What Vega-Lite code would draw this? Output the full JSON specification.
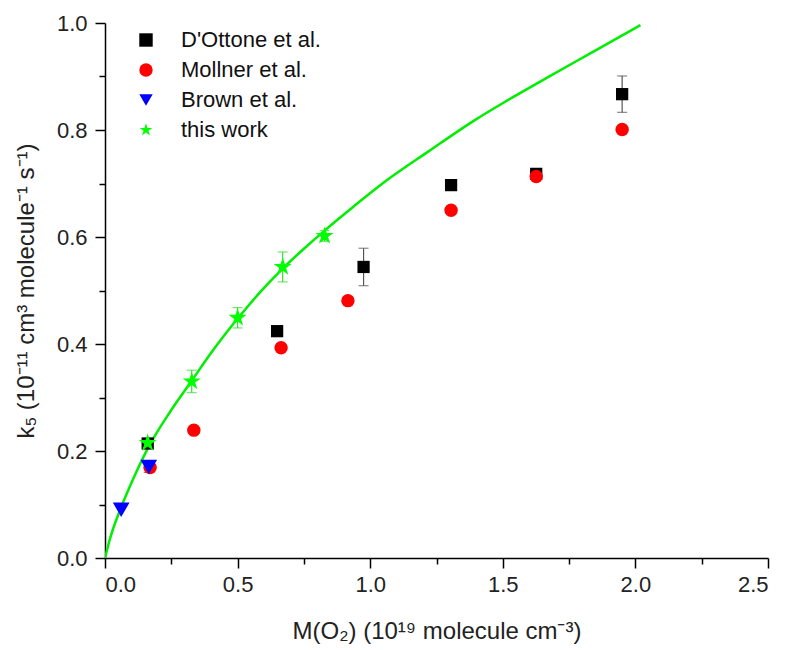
{
  "$schema": "https://vega.github.io/schema/vega-lite/v6.json",
  "width": 663,
  "height": 535,
  "autosize": "none",
  "padding": {"left": 105, "top": 23, "right": 21, "bottom": 92},
  "background": "white",
  "config": {
    "view": {"stroke": null},
    "font": "Liberation Sans",
    "axis": {"grid": false, "domainColor": "#000", "domainWidth": 1.5, "tickColor": "#000", "tickWidth": 1.5, "labelFont": "Liberation Sans", "labelFontSize": 22, "labelColor": "#222", "titleFont": "Liberation Sans", "titleFontSize": 24, "titleFontWeight": "normal", "titleColor": "#222"}
  },
  "datasets": {
    "pts": [
      {"series": "D'Ottone et al.", "x": 0.161, "y": 0.214},
      {"series": "D'Ottone et al.", "x": 0.649, "y": 0.424},
      {"series": "D'Ottone et al.", "x": 0.975, "y": 0.544, "lo": 0.509, "hi": 0.579},
      {"series": "D'Ottone et al.", "x": 1.305, "y": 0.697},
      {"series": "D'Ottone et al.", "x": 1.626, "y": 0.718},
      {"series": "D'Ottone et al.", "x": 1.950, "y": 0.867, "lo": 0.833, "hi": 0.901},
      {"series": "Mollner et al.", "x": 0.170, "y": 0.169},
      {"series": "Mollner et al.", "x": 0.335, "y": 0.239},
      {"series": "Mollner et al.", "x": 0.664, "y": 0.393},
      {"series": "Mollner et al.", "x": 0.916, "y": 0.481},
      {"series": "Mollner et al.", "x": 1.305, "y": 0.650},
      {"series": "Mollner et al.", "x": 1.626, "y": 0.713},
      {"series": "Mollner et al.", "x": 1.950, "y": 0.801},
      {"series": "Brown et al.", "x": 0.061, "y": 0.090},
      {"series": "Brown et al.", "x": 0.165, "y": 0.170, "lo": 0.160, "hi": 0.180},
      {"series": "this work", "x": 0.161, "y": 0.215},
      {"series": "this work", "x": 0.327, "y": 0.330, "lo": 0.309, "hi": 0.351},
      {"series": "this work", "x": 0.500, "y": 0.449, "lo": 0.430, "hi": 0.468},
      {"series": "this work", "x": 0.670, "y": 0.544, "lo": 0.516, "hi": 0.572},
      {"series": "this work", "x": 0.828, "y": 0.602, "lo": 0.592, "hi": 0.612}
    ],
    "curve": [
      {"x": 0.0, "y": 0.0},
      {"x": 0.02, "y": 0.038},
      {"x": 0.061, "y": 0.095},
      {"x": 0.11, "y": 0.152},
      {"x": 0.168, "y": 0.211},
      {"x": 0.245, "y": 0.273},
      {"x": 0.325, "y": 0.330},
      {"x": 0.41, "y": 0.390},
      {"x": 0.501, "y": 0.448},
      {"x": 0.585, "y": 0.497},
      {"x": 0.670, "y": 0.541},
      {"x": 0.75, "y": 0.578},
      {"x": 0.828, "y": 0.612},
      {"x": 0.94, "y": 0.658},
      {"x": 1.06, "y": 0.705},
      {"x": 1.22, "y": 0.760},
      {"x": 1.393, "y": 0.818},
      {"x": 1.53, "y": 0.859},
      {"x": 1.664, "y": 0.897},
      {"x": 1.84, "y": 0.946},
      {"x": 2.019, "y": 0.996}
    ]
  },
  "encoding": {
    "x": {"field": "x", "type": "quantitative", "scale": {"domain": [0, 2.5], "nice": false, "zero": false},
      "axis": {"title": "M(O₂) (10¹⁹ molecule cm⁻³)", "values": [0, 0.25, 0.5, 0.75, 1, 1.25, 1.5, 1.75, 2, 2.25, 2.5],
        "labelExpr": "datum.value % 0.5 === 0 ? format(datum.value, '.1f') : ''",
        "tickSize": {"condition": {"test": "datum.value % 0.5 === 0", "value": 10}, "value": 6},
        "labelPadding": 6, "titlePadding": 24, "labelOverlap": false}},
    "y": {"field": "y", "type": "quantitative", "scale": {"domain": [0, 1], "nice": false, "zero": false},
      "axis": {"title": "k₅ (10⁻¹¹ cm³ molecule⁻¹ s⁻¹)", "values": [0, 0.1, 0.2, 0.3, 0.4, 0.5, 0.6, 0.7, 0.8, 0.9, 1],
        "labelExpr": "round(datum.value * 10) % 2 === 0 ? format(datum.value, '.1f') : ''",
        "tickSize": {"condition": {"test": "round(datum.value * 10) % 2 === 0", "value": 10}, "value": 6},
        "labelPadding": 8, "titlePadding": 18, "labelOverlap": false}}
  },
  "layer": [
    {
      "data": {"name": "curve"},
      "mark": {"type": "line", "color": "#00ee00", "strokeWidth": 2.5, "interpolate": "monotone", "clip": true},
      "encoding": {}
    },
    {
      "data": {"name": "pts"},
      "transform": [{"filter": "isValid(datum.lo) && datum.series === 'this work'"}],
      "mark": {"type": "errorbar", "color": "#33dd33", "thickness": 1.2, "ticks": {"size": 10, "thickness": 1.2}},
      "encoding": {"y": {"field": "lo", "type": "quantitative"}, "y2": {"field": "hi"}}
    },
    {
      "data": {"name": "pts"},
      "transform": [{"filter": "isValid(datum.lo) && datum.series !== 'this work'"}],
      "mark": {"type": "errorbar", "color": "#555555", "thickness": 1.2, "ticks": {"size": 10, "thickness": 1.2}},
      "encoding": {"y": {"field": "lo", "type": "quantitative"}, "y2": {"field": "hi"}}
    },
    {
      "data": {"name": "pts"},
      "mark": {"type": "point", "filled": true, "opacity": 1},
      "encoding": {
        "color": {"field": "series", "type": "nominal",
          "scale": {"domain": ["D'Ottone et al.", "Mollner et al.", "Brown et al.", "this work"], "range": ["#000000", "#ff0000", "#0000ff", "#00ff00"]},
          "legend": {"orient": "none", "legendX": 30, "legendY": 6, "title": null, "labelFontSize": 22, "labelFont": "Liberation Sans", "labelColor": "#111", "symbolSize": 180, "rowPadding": 8, "labelOffset": 24, "padding": 0, "symbolStrokeWidth": 0}},
        "shape": {"field": "series", "type": "nominal",
          "scale": {"domain": ["D'Ottone et al.", "Mollner et al.", "Brown et al.", "this work"], "range": ["square", "circle", "triangle-down", "M0,-1L0.225,-0.309L0.951,-0.309L0.363,0.118L0.588,0.809L0,0.382L-0.588,0.809L-0.363,0.118L-0.951,-0.309L-0.225,-0.309Z"]},
          "legend": {"orient": "none", "legendX": 30, "legendY": 6, "title": null, "labelFontSize": 22, "labelFont": "Liberation Sans", "labelColor": "#111", "symbolSize": 180, "rowPadding": 8, "labelOffset": 24, "padding": 0, "symbolStrokeWidth": 0}},
        "size": {"condition": [
          {"test": "datum.series === 'this work'", "value": 360},
          {"test": "datum.series === 'Brown et al.'", "value": 280},
          {"test": "datum.series === 'Mollner et al.'", "value": 180}
        ], "value": 150}
      }
    }
  ]
}
